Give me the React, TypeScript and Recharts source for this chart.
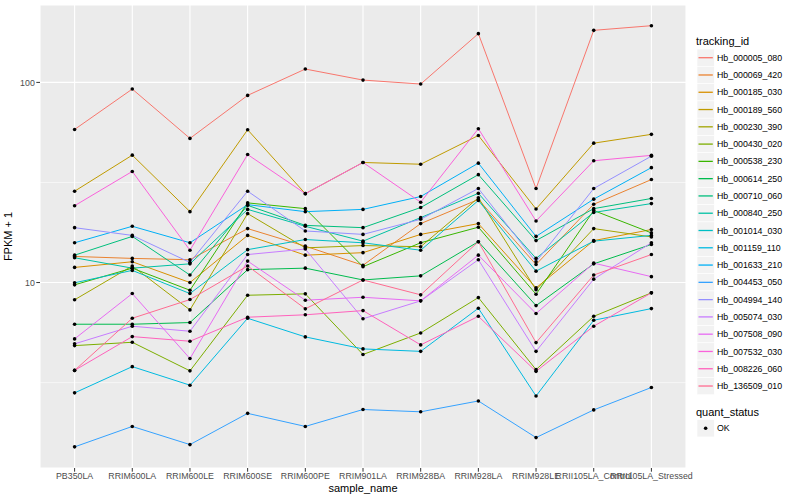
import { LineChart, Line, XAxis, YAxis, CartesianGrid, ReferenceLine } from 'recharts';

const samples = [
  'PB350LA', 'RRIM600LA', 'RRIM600LE', 'RRIM600SE', 'RRIM600PE', 'RRIM901LA',
  'RRIM928BA', 'RRIM928LA', 'RRIM928LE', 'RRII105LA_Control', 'RRII105LA_Stressed',
];

const trackingIds = [
  'Hb_000005_080', 'Hb_000069_420', 'Hb_000185_030', 'Hb_000189_560', 'Hb_000230_390',
  'Hb_000430_020', 'Hb_000538_230', 'Hb_000614_250', 'Hb_000710_060', 'Hb_000840_250',
  'Hb_001014_030', 'Hb_001159_110', 'Hb_001633_210', 'Hb_004453_050', 'Hb_004994_140',
  'Hb_005074_030', 'Hb_007508_090', 'Hb_007532_030', 'Hb_008226_060', 'Hb_136509_010',
];

// FPKM + 1, one array per gene, in sample order
const hb000005_080 = [58.2, 92.6, 52.5, 86.1, 116.6, 102.7, 98.1, 175.2, 29.5, 182, 192];
const hb000069_420 = [13.5, 13.2, 13.0, 18.6, 15.2, 12.2, 19.7, 26.0, 12.3, 24.6, 32.7];
const hb000185_030 = [11.9, 12.7, 10.0, 17.2, 13.7, 14.1, 17.4, 19.7, 9.4, 16.2, 18.4];
const hb000189_560 = [28.6, 43.3, 22.6, 58.0, 27.8, 39.8, 39.0, 54.3, 23.3, 49.7, 55.0];
const hb000230_390 = [8.2, 12.1, 7.3, 22.1, 14.9, 15.3, 15.1, 26.5, 9.2, 18.6, 16.9];
const hb000430_020 = [4.84, 5.03, 3.62, 8.64, 8.78, 4.37, 5.6, 8.41, 3.67, 6.78, 8.88];
const hb000538_230 = [9.74, 11.8, 9.15, 25.0, 23.4, 12.0, 15.8, 18.9, 8.74, 22.9, 17.7];
const hb000614_250 = [6.19, 6.19, 6.31, 11.6, 11.8, 10.3, 10.8, 16.0, 7.67, 12.4, 15.5];
const hb000710_060 = [13.7, 17.0, 10.9, 24.3, 19.3, 18.8, 23.7, 34.6, 16.2, 23.4, 26.3];
const hb000840_250 = [13.3, 11.8, 12.4, 23.2, 19.1, 16.1, 21.1, 27.9, 13.2, 22.4, 24.8];
const hb001014_030 = [9.97, 11.5, 8.81, 14.6, 16.4, 15.8, 14.5, 25.7, 11.4, 16.1, 17.2];
const hb001159_110 = [2.81, 3.8, 3.07, 6.63, 5.35, 4.66, 4.53, 7.44, 2.71, 6.48, 7.41];
const hb001633_210 = [15.8, 19.1, 15.8, 24.5, 22.6, 23.2, 26.9, 39.5, 17.0, 26.1, 37.5];
const hb004453_050 = [1.51, 1.91, 1.55, 2.22, 1.91, 2.32, 2.26, 2.56, 1.68, 2.31, 2.99];
const hb004994_140 = [18.8, 17.2, 12.6, 28.6, 18.1, 17.4, 20.7, 29.5, 12.7, 29.5, 42.8];
const hb005074_030 = [4.94, 6.05, 5.71, 13.8, 14.7, 6.59, 8.1, 13.0, 4.53, 10.4, 15.8];
const hb007508_090 = [5.23, 8.81, 4.17, 12.8, 8.16, 8.44, 8.1, 13.7, 7.0, 12.5, 10.7];
const hb007532_030 = [24.2, 35.9, 14.5, 43.6, 27.8, 39.8, 25.2, 58.7, 20.3, 40.6, 43.2];
const hb008226_060 = [3.64, 5.37, 5.09, 6.71, 6.9, 7.24, 4.88, 6.78, 3.6, 6.05, 8.88];
const hb136509_010 = [3.64, 6.63, 8.22, 12.1, 7.39, 10.3, 8.68, 16.0, 5.01, 10.9, 13.8];

const seriesValues = [
  hb000005_080, hb000069_420, hb000185_030, hb000189_560, hb000230_390,
  hb000430_020, hb000538_230, hb000614_250, hb000710_060, hb000840_250,
  hb001014_030, hb001159_110, hb001633_210, hb004453_050, hb004994_140,
  hb005074_030, hb007508_090, hb007532_030, hb008226_060, hb136509_010,
];

const yTicks = [10, 100];
const yMinor = [3.162, 31.62];
const yDomain = [1.184, 243.6];

// ggplot hue palette, 20 levels
const palette = [
  '#F8766D', '#EA8331', '#D89000', '#C09B00', '#A3A500', '#7CAE00', '#39B600',
  '#00BB4E', '#00BF7D', '#00C1A3', '#00BFC4', '#00BAE0', '#00B0F6', '#35A2FF',
  '#9590FF', '#C77CFF', '#E76BF3', '#FA62DB', '#FF62BC', '#FF6C91',
];

const data = samples.map((sample, i) => {
  const row: Record<string, string | number> = { sample };
  trackingIds.forEach((id, j) => {
    row[id] = seriesValues[j][i];
  });
  return row;
});

const FONT = '"Liberation Sans", Arial, sans-serif';

function KeyLegend() {
  const step = 17.28;
  return (
    <svg width={110} height={450} style={{ position: 'absolute', left: 690, top: 0 }}>
      <text x={6} y={44.5} fontSize={11} fill="#000">tracking_id</text>
      {trackingIds.map((id, i) => {
        const cy = 57.7 + i * step;
        return (
          <g key={id}>
            <rect x={7} y={cy - step / 2} width={step} height={step} fill="#F2F2F2" stroke="#fff" strokeWidth={0.6} />
            <line x1={8.5} x2={22.8} y1={cy} y2={cy} stroke={palette[i]} strokeWidth={1.3} />
            <text x={27} y={cy + 3.1} fontSize={8.8} fill="#000">{id}</text>
          </g>
        );
      })}
      <text x={6} y={416} fontSize={11} fill="#000">quant_status</text>
      <rect x={7} y={428.3 - step / 2} width={step} height={step} fill="#F2F2F2" stroke="#fff" strokeWidth={0.6} />
      <circle cx={7 + step / 2} cy={428.3} r={1.8} fill="#000" />
      <text x={27} y={431.4} fontSize={8.8} fill="#000">OK</text>
    </svg>
  );
}

export default function App() {
  return (
    <div style={{ position: 'relative', width: 800, height: 500, background: '#fff', fontFamily: FONT }}>
      <style>{'body{margin:0}'}</style>
      <LineChart width={800} height={500} data={data} margin={{ top: 5, right: 114, bottom: 0, left: 0 }}>
        <CartesianGrid fill="#EBEBEB" stroke="#fff" strokeWidth={1.1} />
        {yMinor.map((v) => (
          <ReferenceLine key={v} y={v} stroke="#fff" strokeWidth={0.55} />
        ))}
        <XAxis
          dataKey="sample"
          interval={0}
          padding={{ left: 34.6, right: 34.6 }}
          axisLine={false}
          tickSize={3.7}
          tickLine={{ stroke: '#333333' }}
          tick={{ fontSize: 8.8, fill: '#4D4D4D' }}
          tickMargin={1}
          height={32}
          label={{
            content: (p: any) => {
              const vb = p.viewBox || {};
              return (
                <text x={vb.x + vb.width / 2} y={vb.y + 24} textAnchor="middle" fontSize={11} fill="#000">
                  sample_name
                </text>
              );
            },
          }}
        />
        <YAxis
          type="number"
          scale="log"
          domain={yDomain}
          allowDataOverflow
          ticks={yTicks}
          axisLine={false}
          tickSize={3.7}
          tickLine={{ stroke: '#333333' }}
          tick={{ fontSize: 8.8, fill: '#4D4D4D' }}
          tickMargin={1.5}
          width={40}
          label={{
            content: (p: any) => {
              const vb = p.viewBox || {};
              const cx = vb.x + 12;
              const cy = vb.y + vb.height / 2;
              return (
                <text x={cx} y={cy} textAnchor="middle" fontSize={11} fill="#000" transform={`rotate(-90 ${cx} ${cy})`}>
                  FPKM + 1
                </text>
              );
            },
          }}
        />
        {trackingIds.map((id, i) => (
          <Line
            key={id}
            dataKey={id}
            type="linear"
            stroke={palette[i]}
            strokeWidth={1}
            dot={false}
            activeDot={false}
            isAnimationActive={false}
          />
        ))}
        {trackingIds.map((id) => (
          <Line
            key={id + '-pt'}
            dataKey={id}
            type="linear"
            stroke="none"
            dot={{ r: 1.8, fill: '#000', stroke: 'none' }}
            activeDot={false}
            isAnimationActive={false}
          />
        ))}
      </LineChart>
      <KeyLegend />
    </div>
  );
}
